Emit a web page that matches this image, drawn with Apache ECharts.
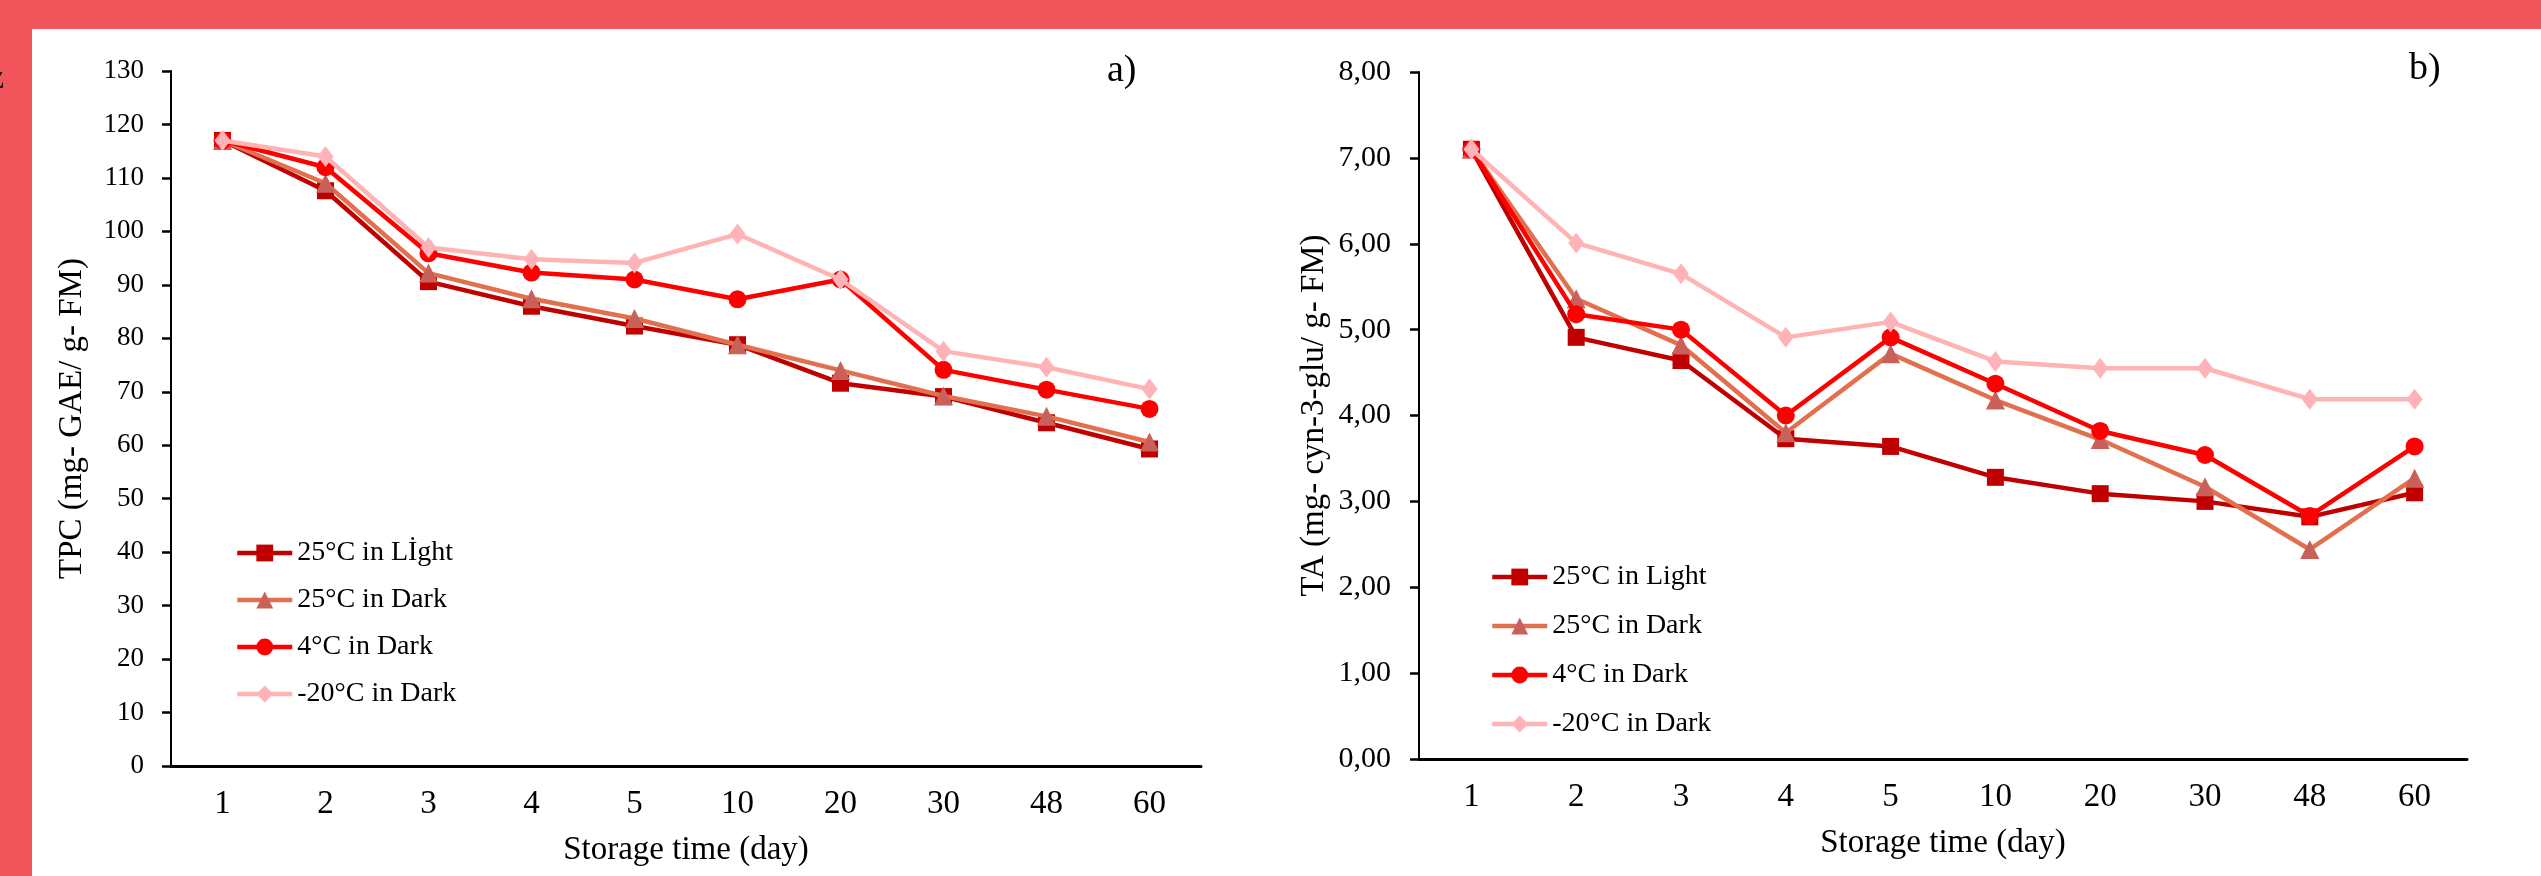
<!DOCTYPE html>
<html>
<head>
<meta charset="utf-8">
<script src="https://cdn.jsdelivr.net/npm/echarts@6/dist/echarts.min.js"></script>
<style>
  html, body { margin: 0; padding: 0; background: #fff; }
  #chart { width: 2541px; height: 876px; }
</style>
</head>
<body>
<div id="chart"></div>
<script>
// storage days (category axis, shared by both panels)
const days = ['1', '2', '3', '4', '5', '10', '20', '30', '48', '60']

// a) TPC (mg GAE / g FM)
const tpcLight = [117, 107.6, 90.6, 86.0, 82.3, 78.8, 71.6, 69.1, 64.2, 59.3]
const tpcDark = [117, 109.0, 92.2, 87.4, 83.7, 78.8, 74.0, 69.2, 65.4, 60.6]
const tpc4 = [117, 112.0, 95.9, 92.3, 91.0, 87.3, 91.0, 74.1, 70.4, 66.8]
const tpcFrozen = [117, 114.0, 97.0, 94.8, 94.1, 99.5, 91.0, 77.6, 74.6, 70.5]

// b) TA (mg cyn-3-glu / g FM)
const taLight = [7.10, 4.91, 4.64, 3.73, 3.64, 3.28, 3.09, 3.00, 2.82, 3.10]
const taDark = [7.10, 5.36, 4.82, 3.80, 4.72, 4.18, 3.72, 3.17, 2.44, 3.27]
const ta4 = [7.10, 5.18, 5.00, 4.00, 4.91, 4.37, 3.82, 3.54, 2.83, 3.64]
const taFrozen = [7.10, 6.01, 5.65, 4.91, 5.09, 4.63, 4.55, 4.55, 4.19, 4.19]

const namesA = ['25°C in Lİght', '25°C in Dark', '4°C in Dark', '-20°C in Dark']
const namesB = ['25°C in Light', '25°C in Dark', '4°C in Dark', '-20°C in Dark']

const FONT = 'Liberation Serif'

// line / marker look for the four conditions
const looks = [
  { symbol: 'rect', size: 17, line: '#C00000', mark: '#C00000' },
  { symbol: 'triangle', size: 19, line: '#E2704E', mark: '#C9605A' },
  { symbol: 'circle', size: 18, line: '#FF0000', mark: '#FF0000' },
  { symbol: 'diamond', size: [16, 21], line: '#FFB3B3', mark: '#FFB3B8' }
]

function makeSeries(names, sets, idx) {
  return sets.map((d, i) => ({
    name: names[i],
    type: 'line',
    xAxisIndex: idx,
    yAxisIndex: idx,
    data: d,
    symbol: looks[i].symbol,
    symbolSize: looks[i].size,
    showAllSymbol: true,
    lineStyle: { color: looks[i].line, width: 4.5 },
    itemStyle: { color: looks[i].mark },
    emphasis: { disabled: true },
    z: 2 + i
  }))
}

function xAxis(idx) {
  return {
    type: 'category',
    gridIndex: idx,
    data: days,
    name: 'Storage time (day)',
    nameLocation: 'middle',
    nameGap: 68,
    nameTextStyle: { fontFamily: FONT, fontSize: 33, color: '#000' },
    axisLine: { lineStyle: { color: '#000', width: 3 } },
    axisTick: { length: 9, lineStyle: { color: '#000', width: 2.5 } },
    axisLabel: { fontFamily: FONT, fontSize: 33, color: '#000', margin: 22 },
    splitLine: { show: false }
  }
}

function legend(names, left, top, gap) {
  return {
    data: names,
    orient: 'vertical',
    left: left,
    top: top,
    padding: 0,
    itemWidth: 55,
    itemHeight: 21,
    itemGap: gap,
    selectedMode: false,
    lineStyle: { width: 4.5 },
    textStyle: { fontFamily: FONT, fontSize: 28, color: '#000', lineHeight: 30 }
  }
}

const chart = echarts.init(document.getElementById('chart'))

const option = {
  backgroundColor: '#ffffff',
  animation: false,
  grid: [
    { left: 171, right: 1340, top: 71, bottom: 110 },
    { left: 1419, right: 74, top: 72, bottom: 117 }
  ],
  xAxis: [xAxis(0), xAxis(1)],
  yAxis: [
    {
      type: 'value',
      gridIndex: 0,
      min: 0,
      max: 130,
      interval: 10,
      name: 'TPC (mg- GAE/ g- FM)',
      nameLocation: 'middle',
      nameGap: 82,
      nameTextStyle: { fontFamily: FONT, fontSize: 33, color: '#000' },
      axisLine: { show: true, lineStyle: { color: '#000', width: 2 } },
      axisTick: { show: true, length: 9, lineStyle: { color: '#000', width: 2.5 } },
      axisLabel: { fontFamily: FONT, fontSize: 27, color: '#000', margin: 27 },
      splitLine: { show: false }
    },
    {
      type: 'value',
      gridIndex: 1,
      min: 0,
      max: 8,
      interval: 1,
      name: 'TA (mg- cyn-3-glu/ g- FM)',
      nameLocation: 'middle',
      nameGap: 88,
      nameTextStyle: { fontFamily: FONT, fontSize: 33, color: '#000' },
      axisLine: { show: true, lineStyle: { color: '#000', width: 2 } },
      axisTick: { show: true, length: 9, lineStyle: { color: '#000', width: 2.5 } },
      axisLabel: {
        fontFamily: FONT,
        fontSize: 30,
        color: '#000',
        margin: 28,
        formatter: v => v.toFixed(2).replace('.', ',')
      },
      splitLine: { show: false }
    }
  ],
  legend: [
    legend(namesA, 235, 538, 17),
    legend(namesB, 1490, 562, 19)
  ],
  series: [
    ...makeSeries(namesA, [tpcLight, tpcDark, tpc4, tpcFrozen], 0),
    ...makeSeries(namesB, [taLight, taDark, ta4, taFrozen], 1)
  ],
  graphic: [
    // red frame band (top and left)
    { type: 'rect', left: 0, top: 0, shape: { width: 2541, height: 29 }, style: { fill: '#F2545C' }, z: 10 },
    { type: 'rect', left: 0, top: 0, shape: { width: 32, height: 876 }, style: { fill: '#F2545C' }, z: 10 },
    // clipped character at the page edge
    { type: 'text', x: 4, y: 62, z: 11, style: { text: 'z', align: 'right', font: '34px "Liberation Serif"', fill: '#000' } },
    { type: 'text', left: 1107, top: 52, style: { text: 'a)', font: '38px "Liberation Serif"', fill: '#000' } },
    { type: 'text', left: 2409, top: 50, style: { text: 'b)', font: '38px "Liberation Serif"', fill: '#000' } }
  ]
}

chart.setOption(option)
</script>
</body>
</html>
